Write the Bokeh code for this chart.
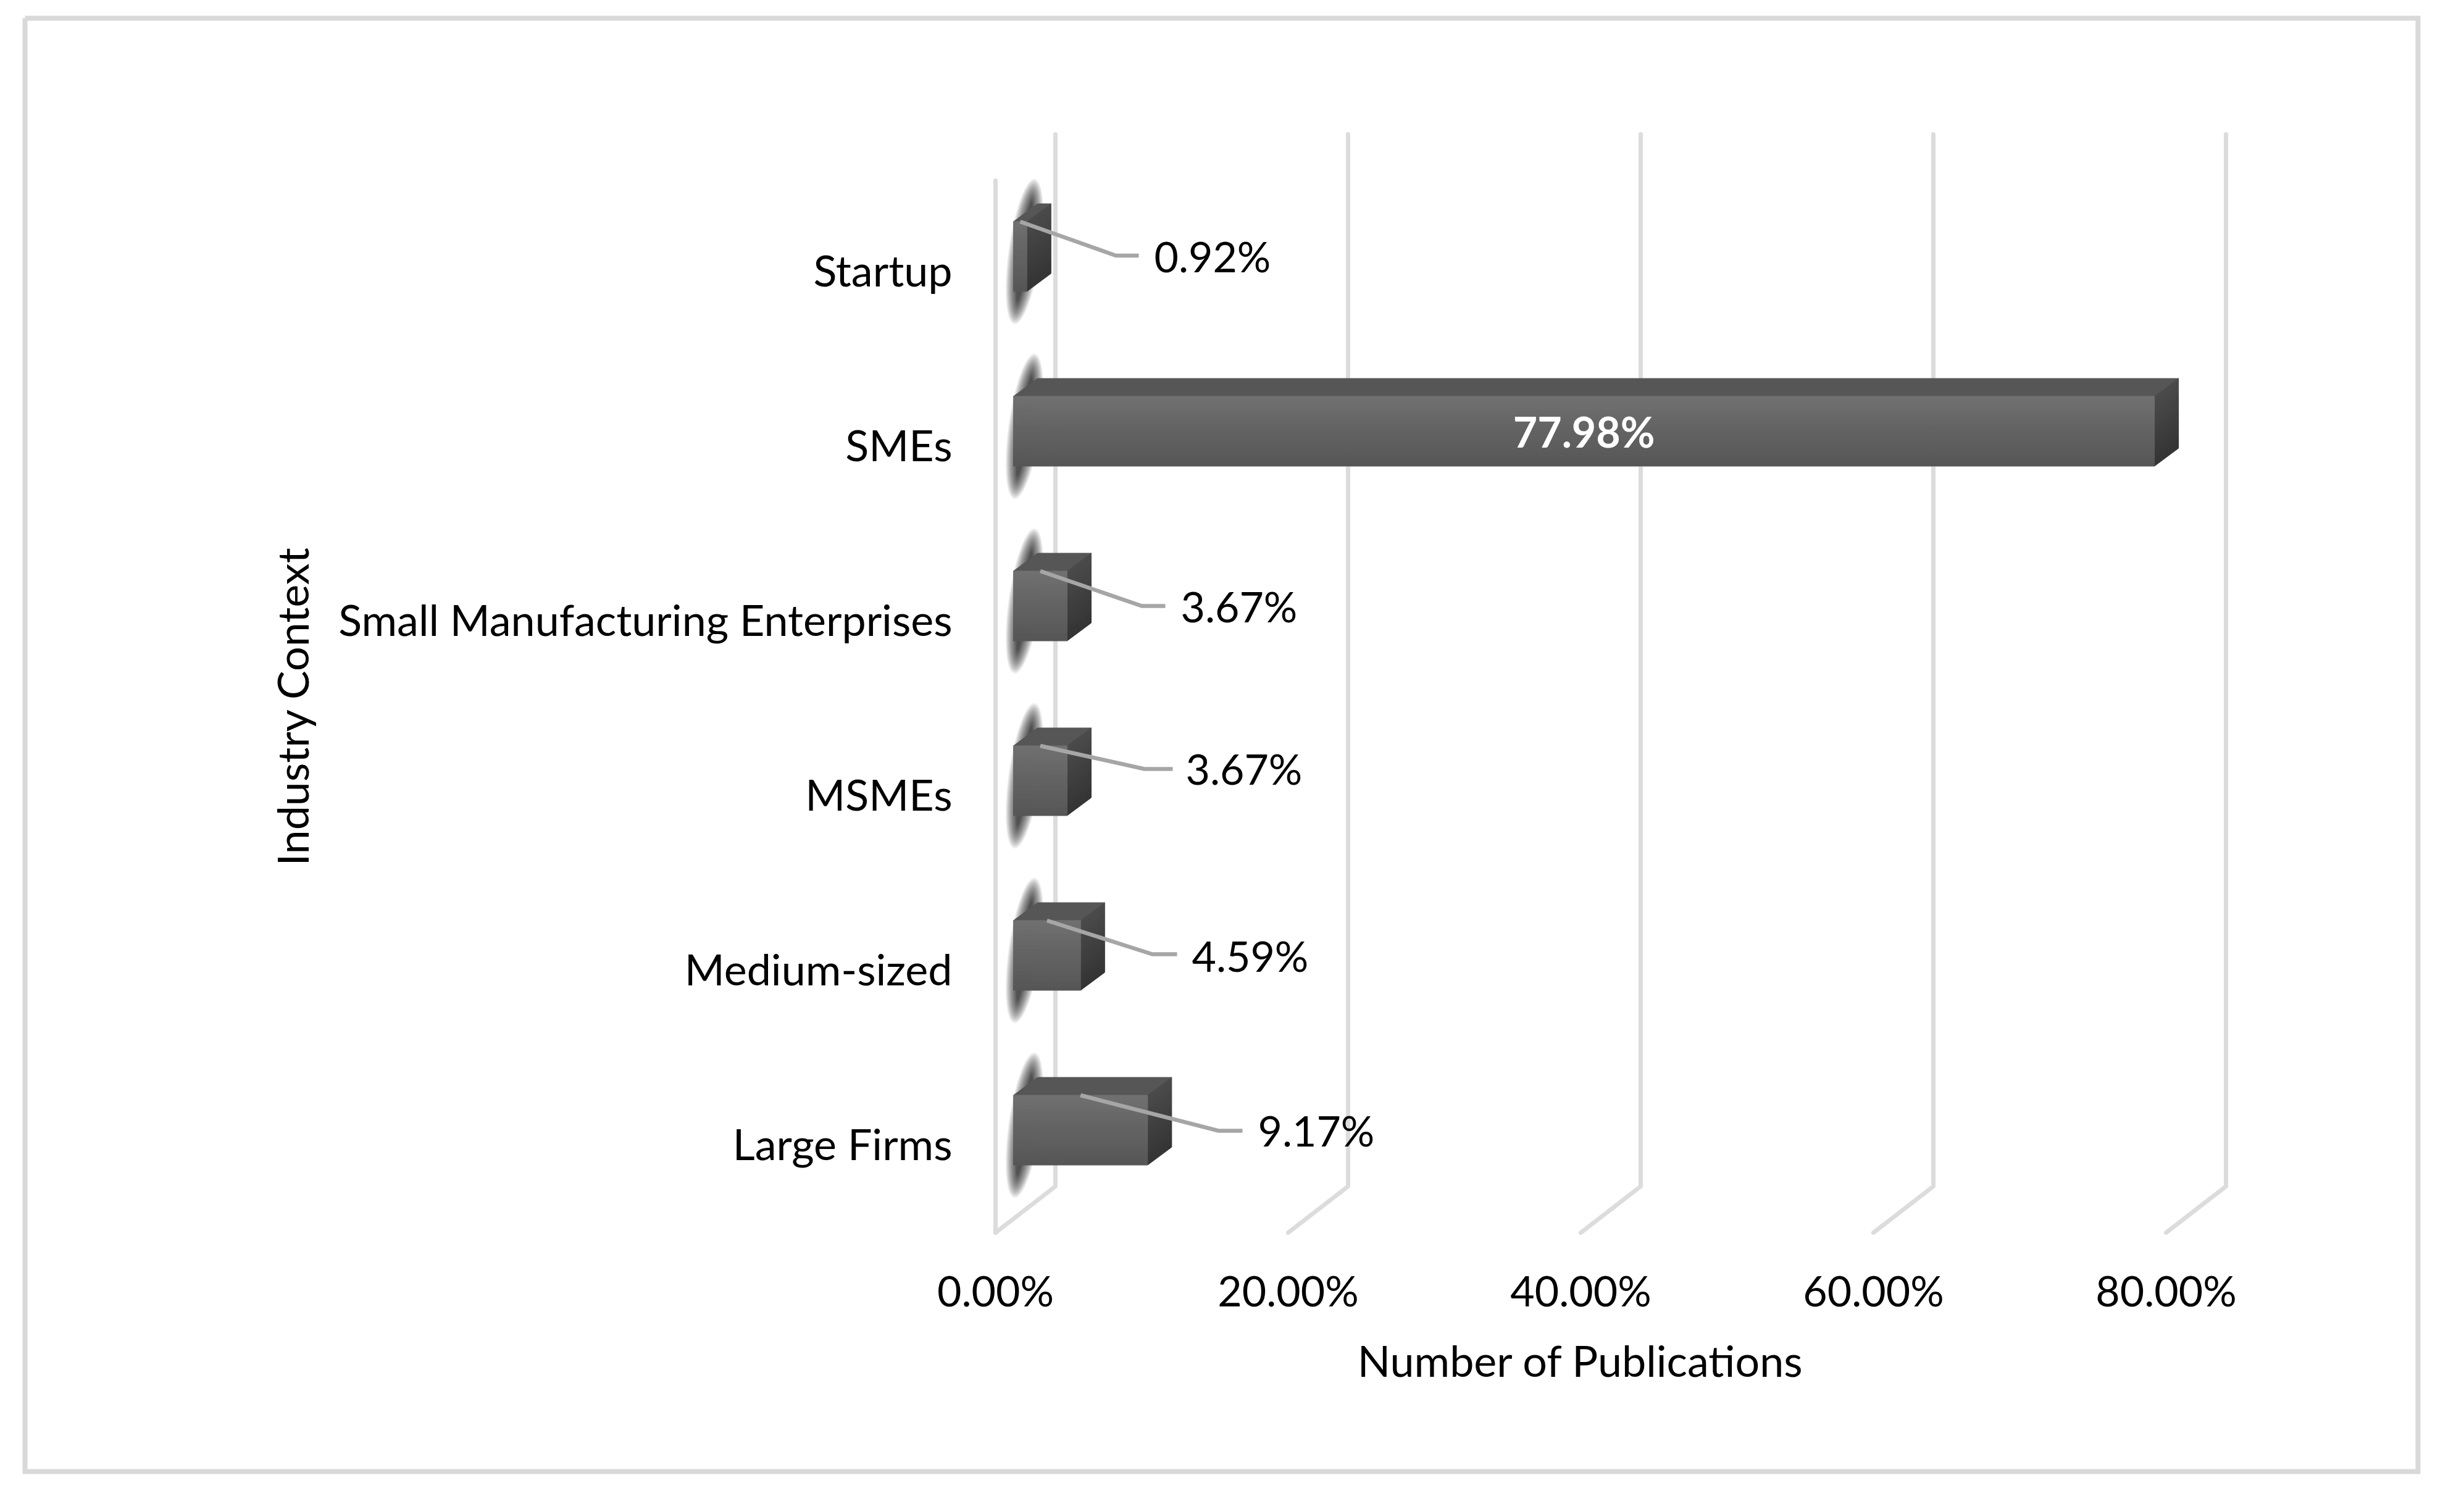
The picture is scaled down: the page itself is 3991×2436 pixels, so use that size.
from bokeh.plotting import figure
from bokeh.models import LinearAxis, FixedTicker, PrintfTickFormatter, Range1d
from bokeh.core.properties import value
from bokeh.embed import file_html
from bokeh.resources import INLINE

categories = ["Large Firms", "Medium-sized", "MSMEs", "Small Manufacturing Enterprises", "SMEs", "Startup"]
shares = [9.17, 4.59, 3.67, 3.67, 77.98, 0.92]
share_labels = ["9.17%", "4.59%", "3.67%", "3.67%", "77.98%", "0.92%"]
x_ticks = [0, 20, 40, 60, 80]

FONT = "Lato"
FS = "70px"
FS_NUM = "68px"
W, H = 3975, 2420
PXX, PXY = 23.7, 283.0
ORIGIN = 0

def X(px):
    return (px - 1612) / PXX

def Y(py):
    return (1851 - py) / PXY

p = figure(width=W, height=H, output_backend="svg", toolbar_location=None,
           x_axis_type=None, y_axis_type=None, min_border=0,
           x_range=Range1d(X(ORIGIN), X(ORIGIN + W)), y_range=Range1d(Y(ORIGIN + H), Y(ORIGIN)),
           background_fill_color="white", border_fill_color="white", outline_line_color=None)
p.grid.visible = False

# outer frame
p.multi_line([[X(40), X(3916), X(3916), X(40), X(40)]],
             [[Y(29), Y(29), Y(2383), Y(2383), Y(29)]],
             line_color="#d9d9d9", line_width=8, line_join="miter")

# walls: back vertical + floor diagonal for every tick, plus the front vertical at zero
DEPTH_X = 97 / PXX
TOP, KINK, FRONT = Y(217), Y(1921), Y(1996)
xs_g, ys_g = [], []
for t in x_ticks:
    xs_g.append([t, t + DEPTH_X, t + DEPTH_X])
    ys_g.append([FRONT, KINK, TOP])
xs_g.append([0, 0])
ys_g.append([FRONT, Y(292)])
p.multi_line(xs_g, ys_g, line_color="#dcdcdc", line_width=7, line_cap="round", line_join="round")

# bar geometry
X0 = 29 / PXX
DX, DY = 39 / PXX, 29 / PXY
HALF = 56.5 / PXY
LIFT = 21 / PXY

# soft shadow behind each bar
LAYERS = 26
for k in range(LAYERS):
    f = (1 - k / LAYERS) ** 1.4
    p.ellipse([X0 + 18 / PXX] * len(shares), [i + LIFT + 8 / PXY for i in range(len(shares))],
              width=(10 + 42 * f) / PXX, height=(160 + 78 * f) / PXY, angle=-0.14,
              fill_color="#333333", fill_alpha=0.07, line_color=None)

def lerp(a, b, t):
    v = int(round(a + (b - a) * t))
    return f"#{v:02x}{v:02x}{v:02x}"

N = 28
fl, fr, ft, fb, fc = [], [], [], [], []
sx, sy, sc = [], [], []
tx, ty = [], []
for i, v in enumerate(shares):
    c = i + LIFT
    top, bot = c + HALF, c - HALF
    x1 = X0 + v
    tx.append([X0, X0 + DX, x1 + DX, x1])
    ty.append([top, top + DY, top + DY, top])
    for s in range(N):
        a, b = s / N, (s + 1) / N
        y_a, y_b = top + (bot - top) * a, top + (bot - top) * b
        fl.append(X0); fr.append(x1); ft.append(y_a); fb.append(y_b)
        fc.append(lerp(0x70, 0x55, a))
        sx.append([x1, x1 + DX, x1 + DX, x1])
        sy.append([y_a, y_a + DY, y_b + DY, y_b])
        sc.append(lerp(0x4a, 0x33, a))

p.patches(tx, ty, fill_color="#565656", line_color="#565656", line_width=1)
p.patches(sx, sy, fill_color=sc, line_color=sc, line_width=1)
p.quad(left=fl, right=fr, top=ft, bottom=fb, fill_color=fc, line_color=fc, line_width=1)

# leader lines (elbow, tail end and label start in page pixels)
elbow_px = [1973, 1866, 1853, 1849, None, 1807]
elbow_py = [1831, 1545, 1245, 981, None, 413.5]
tail_px = [2012, 1906, 1899, 1887, None, 1844]
label_px = [2037, 1930, 1920, 1912, None, 1869]
label_py = [1830, 1547, 1244, 981, None, 414]

lx, ly = [], []
tx_l, ty_l, tt = [], [], []
for i, v in enumerate(shares):
    if elbow_px[i] is None:
        continue
    lx.append([X0 + v / 2, X(elbow_px[i]), X(tail_px[i])])
    ly.append([i + LIFT + HALF, Y(elbow_py[i]), Y(elbow_py[i])])
    tx_l.append(X(label_px[i])); ty_l.append(Y(label_py[i])); tt.append(share_labels[i])
p.multi_line(lx, ly, line_color="#a6a6a6", line_width=6.5, line_join="miter")
p.text(tx_l, ty_l, text=tt, text_font=value(FONT), text_font_size=FS_NUM, text_color="black",
       text_align="left", text_baseline="middle")
p.text([X0 + shares[4] / 2], [4 + LIFT], text=[share_labels[4]], text_font=value(FONT),
       text_font_size=FS_NUM, text_font_style="bold", text_color="white",
       text_align="center", text_baseline="middle")

# axes
xa = LinearAxis(fixed_location=FRONT, bounds=(0, 80), ticker=FixedTicker(ticks=x_ticks),
                formatter=PrintfTickFormatter(format="%.2f%%"), axis_label="Number of Publications")
ya = LinearAxis(fixed_location=0, bounds=(0, 5), ticker=FixedTicker(ticks=list(range(len(categories)))),
                major_label_overrides={i: c for i, c in enumerate(categories)}, axis_label="Industry Context")
for ax in (xa, ya):
    ax.axis_line_color = None
    ax.major_tick_line_color = None
    ax.minor_tick_line_color = None
    ax.major_label_text_font = FONT
    ax.major_label_text_color = "black"
    ax.axis_label_text_font = FONT
    ax.axis_label_text_font_size = FS
    ax.axis_label_text_font_style = "normal"
    ax.axis_label_text_color = "black"
xa.major_label_text_font_size = FS_NUM
ya.major_label_text_font_size = FS
xa.major_label_standoff = 46
xa.axis_label_standoff = 28
ya.major_label_standoff = 64
ya.axis_label_standoff = 30
p.add_layout(xa, "below")
p.add_layout(ya, "left")

open("out.html", "w").write(file_html(p, INLINE))
